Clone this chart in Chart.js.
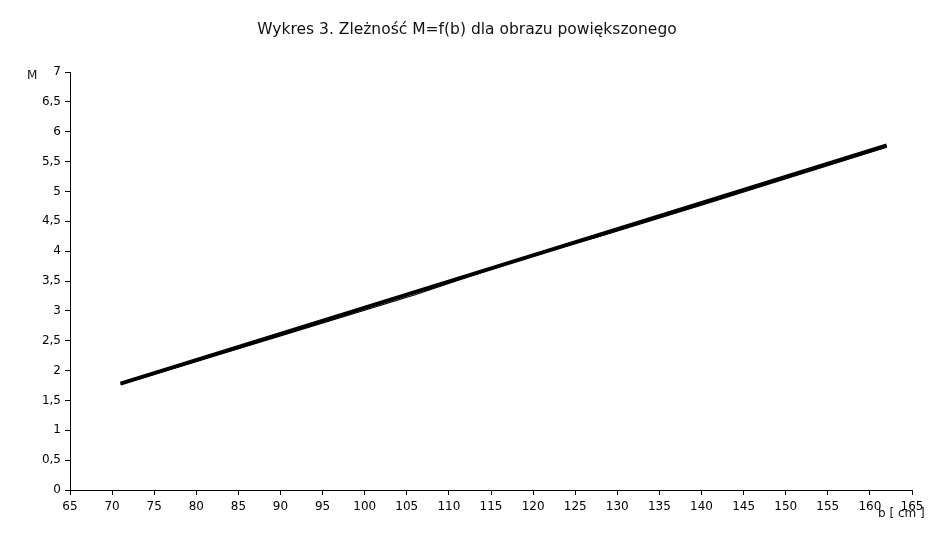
<!DOCTYPE html>
<html>
<head>
<meta charset="utf-8">
<script src="https://cdn.jsdelivr.net/npm/chart.js"></script>
<style>
  html, body { margin: 0; padding: 0; background: #fff; }
</style>
</head>
<body>
<canvas id="chart" width="934" height="548"></canvas>
<script>
// data
const titleText = 'Wykres 3. Zleżność M=f(b) dla obrazu powiększonego';
const bValues = [71, 90, 106, 118, 128, 140, 162];      // b [cm]
const mValues = [1.77, 2.58, 3.27, 3.84, 4.25, 4.77, 5.74];
const fitB = [71, 162];
const fitM = [1.78, 5.77];

const labelsPlugin = {
    id: 'extraLabels',
    afterDraw(chart) {
        const ctx = chart.ctx;
        ctx.save();
        ctx.fillStyle = '#111';
        ctx.font = '15.5px "DejaVu Sans"';
        ctx.textAlign = 'center';
        ctx.textBaseline = 'middle';
        ctx.fillText(titleText, 467, 30);
        ctx.font = '12px "DejaVu Sans"';
        ctx.textAlign = 'left';
        ctx.fillText('M', 27, 76);
        ctx.fillText('b [ cm ]', 878, 514);
        ctx.restore();
    }
};

new Chart(document.getElementById('chart'), {
    type: 'scatter',
    data: {
        datasets: [{
            data: fitB.map((b, i) => ({ x: b, y: fitM[i] })),
            showLine: true,
            borderColor: '#000',
            borderWidth: 4,
            pointRadius: 0
        }, {
            data: bValues.map((b, i) => ({ x: b, y: mValues[i] })),
            showLine: true,
            borderColor: '#000',
            borderWidth: 1.2,
            pointRadius: 0
        }]
    },
    options: {
        responsive: false,
        animation: false,
        devicePixelRatio: 1,
        layout: { padding: { top: 72, right: 22, left: 0, bottom: 0 } },
        plugins: { legend: { display: false }, tooltip: { enabled: false } },
        scales: {
            x: {
                type: 'linear',
                min: 65, max: 165,
                afterFit(s) { s.height = 58; },
                border: { color: '#000', width: 1 },
                grid: { drawOnChartArea: false, color: '#000', tickLength: 5 },
                ticks: {
                    stepSize: 5, color: '#000', padding: 5, maxRotation: 0,
                    font: { family: 'DejaVu Sans', size: 12 }
                }
            },
            y: {
                min: 0, max: 7,
                afterFit(s) { s.width = 70; },
                border: { color: '#000', width: 1 },
                grid: { drawOnChartArea: false, color: '#000', tickLength: 5 },
                ticks: {
                    stepSize: 0.5, color: '#000', padding: 4,
                    font: { family: 'DejaVu Sans', size: 12 },
                    callback: v => String(v).replace('.', ',')
                }
            }
        }
    },
    plugins: [labelsPlugin]
});
</script>
</body>
</html>
